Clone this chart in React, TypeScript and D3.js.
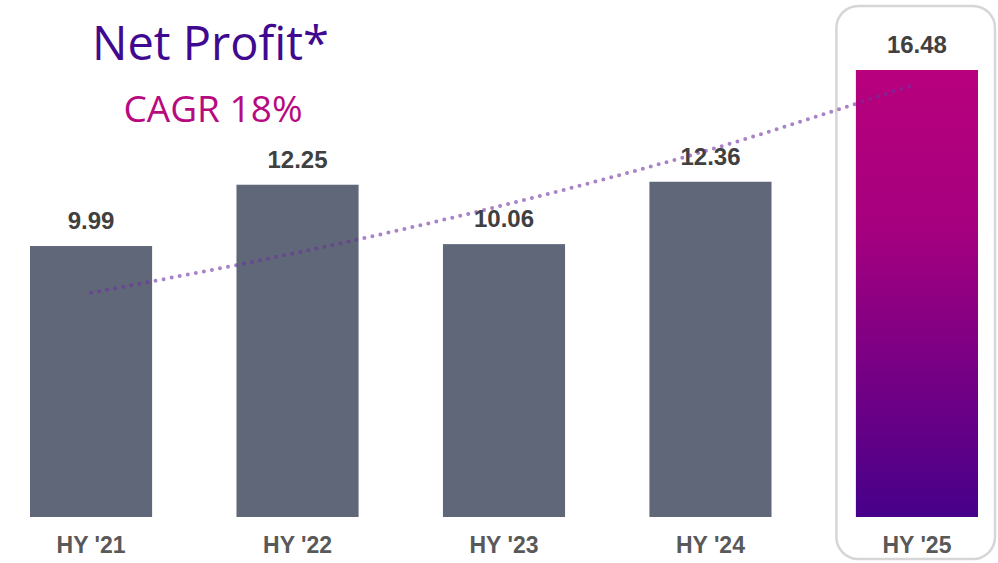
import React from "react";
import * as d3 from "d3";

const categories = ["HY '21", "HY '22", "HY '23", "HY '24", "HY '25"];
const netProfit = [9.99, 12.25, 10.06, 12.36, 16.48];
const trendValues = [8.27, 9.75, 11.5, 13.55, 15.98];
const title = "Net Profit*";
const subtitle = "CAGR 18%";

const W = 998;
const H = 563;

export default function App() {
  const x = d3.scaleBand<string>().domain(categories).range([30, 978]).paddingInner(0.4086).paddingOuter(0);
  const y = d3.scaleLinear().domain([0, 16.48]).range([517, 70]);
  const bw = x.bandwidth();
  const cx = (c: string) => (x(c) as number) + bw / 2;

  const line = d3
    .line<number>()
    .x((_, i) => cx(categories[i]))
    .y((d) => y(d))
    .curve(d3.curveMonotoneX);

  const last = categories.length - 1;
  const hx = x(categories[last]) as number;

  return (
    <div style={{ position: "absolute", left: 0, top: 0, width: W, height: H, background: "#fff", overflow: "hidden" }}>
      <svg width={W} height={H} viewBox={`0 0 ${W} ${H}`} style={{ display: "block" }}>
        <defs>
          <linearGradient id="hlGrad" x1="0" y1="0" x2="0" y2="1">
            <stop offset="0%" stopColor="#b8007d" />
            <stop offset="35%" stopColor="#a6007f" />
            <stop offset="100%" stopColor="#47008a" />
          </linearGradient>
        </defs>
        <rect x={hx - 19.5} y={6} width={bw + 36.5} height={553} rx={22} ry={22} fill="#fff" stroke="#d6d6d6" strokeWidth={2.5} />
        <text x={210.5} y={60} textAnchor="middle" fontFamily="'Open Sans', sans-serif" fontSize={47} fill="#3f0a8f">
          {title}
        </text>
        <text x={213} y={122} textAnchor="middle" fontFamily="'Open Sans', sans-serif" fontSize={37} fill="#b80a80">
          {subtitle}
        </text>
        {netProfit.map((v, i) => (
          <rect
            key={categories[i]}
            x={x(categories[i]) as number}
            y={y(v)}
            width={bw}
            height={y(0) - y(v)}
            fill={i === last ? "url(#hlGrad)" : "#5f6778"}
          />
        ))}
        {netProfit.map((v, i) => (
          <text
            key={"v" + i}
            x={cx(categories[i])}
            y={y(v) - 17}
            textAnchor="middle"
            fontFamily="'Liberation Sans', Arial, sans-serif"
            fontWeight="bold"
            fontSize={24}
            fill="#404040"
          >
            {v.toFixed(2)}
          </text>
        ))}
        {categories.map((c) => (
          <text
            key={c}
            x={cx(c)}
            y={553}
            textAnchor="middle"
            fontFamily="'Liberation Sans', Arial, sans-serif"
            fontWeight="bold"
            fontSize={23}
            fill="#595959"
          >
            {c}
          </text>
        ))}
        <path
          d={line(trendValues) || ""}
          fill="none"
          stroke="#7030a0"
          strokeOpacity={0.6}
          strokeWidth={4}
          strokeLinecap="round"
          strokeDasharray="0 8.2"
        />
      </svg>
    </div>
  );
}
